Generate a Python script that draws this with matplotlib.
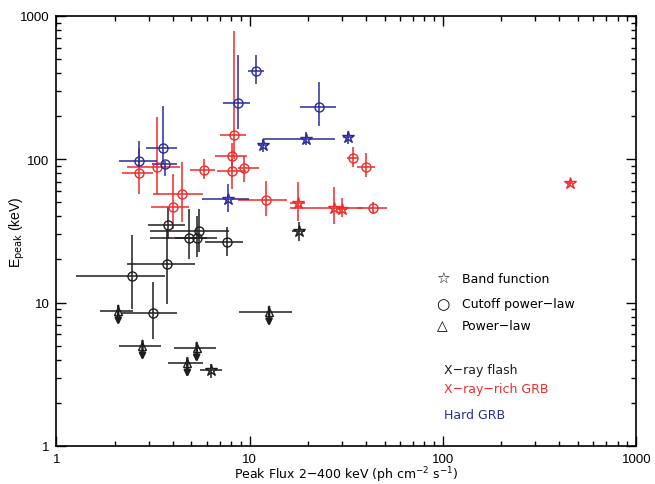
import matplotlib
matplotlib.use("Agg")
import matplotlib.pyplot as plt
import numpy as np

# Hard GRB, cutoff power-law
hard_cpl_x = [2.69, 3.56, 3.65, 8.74, 10.8, 22.9]
hard_cpl_xlo = [2.12, 2.91, 3.12, 7.31, 9.85, 18.2]
hard_cpl_xhi = [3.31, 4.20, 4.20, 10.1, 11.8, 27.9]
hard_cpl_y = [98, 120, 92, 246, 412, 232]
hard_cpl_ylo = [88, 92, 77, 163, 336, 172]
hard_cpl_yhi = [134, 235, 98, 535, 535, 349]

# Hard GRB, Band function
hard_band_x = [11.7, 19.5, 32.4, 7.69]
hard_band_xlo = [11.0, 11.7, 30.5, 5.65]
hard_band_xhi = [12.5, 27.7, 34.4, 9.93]
hard_band_y = [126, 138, 143, 52.9]
hard_band_ylo = [112, 125, 127, 42.7]
hard_band_yhi = [139, 155, 158, 67.4]

# X-ray-rich GRB, cutoff power-law
rich_cpl_x = [2.69, 3.32, 4.49, 4.00, 5.79, 8.28, 8.14, 8.14, 9.39, 12.1, 34.2, 40.0, 43.5]
rich_cpl_xlo = [2.18, 2.31, 3.18, 3.08, 4.92, 7.03, 6.62, 6.76, 8.74, 8.74, 32.0, 35.8, 35.8]
rich_cpl_xhi = [3.18, 4.36, 5.76, 4.88, 6.62, 9.55, 9.66, 9.55, 11.2, 15.6, 36.5, 44.5, 51.2]
rich_cpl_y = [80, 87.8, 57.4, 46.3, 84.4, 147, 104.8, 83.4, 87.1, 51.8, 102.8, 89, 45.6]
rich_cpl_ylo = [57.4, 57.4, 36.4, 32.7, 73, 100, 85, 62.1, 69.2, 40.5, 88.1, 75, 41.6]
rich_cpl_yhi = [120, 197, 95.5, 79, 100.6, 783, 130, 100, 106, 70.3, 121, 111, 50.1]

# X-ray-rich GRB, Band function
rich_band_x = [17.7, 27.4, 30.2, 454]
rich_band_xlo = [16.2, 16.2, 28.5, 440]
rich_band_xhi = [19.4, 38.7, 32.0, 470]
rich_band_y = [49.6, 46.0, 45.1, 68.8]
rich_band_ylo = [37.3, 35.4, 39.4, 65]
rich_band_yhi = [69.2, 63.8, 53.5, 72]

# X-ray flash, cutoff power-law
xrf_cpl_x = [3.80, 3.75, 2.45, 3.18, 4.88, 5.32, 5.47, 7.61]
xrf_cpl_xlo = [2.99, 2.31, 1.27, 2.18, 3.05, 4.11, 3.05, 5.88]
xrf_cpl_xhi = [4.63, 5.22, 3.65, 4.23, 6.00, 6.76, 7.85, 9.28]
xrf_cpl_y = [35, 18.6, 15.3, 8.47, 28.1, 28.1, 31.5, 26.5]
xrf_cpl_ylo = [27.8, 9.8, 9.03, 5.58, 20.2, 20.7, 22.5, 21.3]
xrf_cpl_yhi = [46.3, 32.7, 29.7, 13.9, 45.1, 40.5, 45.1, 33.6]

# X-ray flash, Band function
xrf_band_x = [17.9, 6.31]
xrf_band_xlo = [16.5, 5.54]
xrf_band_xhi = [19.3, 7.17]
xrf_band_y = [31.5, 3.39]
xrf_band_ylo = [27.1, 2.97]
xrf_band_yhi = [36.4, 3.73]

# X-ray flash, power-law (upper limits)
xrf_pl_x = [2.09, 2.79, 5.32, 4.76, 12.6]
xrf_pl_xlo = [1.68, 2.12, 4.06, 3.80, 8.82]
xrf_pl_xhi = [2.50, 3.47, 6.70, 5.76, 16.6]
xrf_pl_y = [8.8, 5.01, 4.85, 3.8, 8.65]

RED = '#f02a2a'
BLUE = '#2b2b9c'
BLACK = '#1e1e1e'

fig = plt.figure(figsize=(6.55, 4.85), dpi=100)
ax = fig.add_axes([0.086, 0.0784, 0.8855, 0.8866])


def draw(x, xlo, xhi, y, ylo, yhi, color, marker, ms):
    x, xlo, xhi = np.array(x), np.array(xlo), np.array(xhi)
    y, ylo, yhi = np.array(y), np.array(ylo), np.array(yhi)
    ax.errorbar(x, y, xerr=[x - xlo, xhi - x], yerr=[y - ylo, yhi - y],
                fmt=marker, mfc='none', mec=color, ecolor=color, ms=ms,
                mew=1.0, elinewidth=1.1, capsize=0)


draw(xrf_cpl_x, xrf_cpl_xlo, xrf_cpl_xhi, xrf_cpl_y, xrf_cpl_ylo, xrf_cpl_yhi, BLACK, 'o', 6.5)
draw(xrf_band_x, xrf_band_xlo, xrf_band_xhi, xrf_band_y, xrf_band_ylo, xrf_band_yhi, BLACK, '*', 9)
draw(rich_cpl_x, rich_cpl_xlo, rich_cpl_xhi, rich_cpl_y, rich_cpl_ylo, rich_cpl_yhi, RED, 'o', 6.5)
draw(rich_band_x, rich_band_xlo, rich_band_xhi, rich_band_y, rich_band_ylo, rich_band_yhi, RED, '*', 9)
draw(hard_cpl_x, hard_cpl_xlo, hard_cpl_xhi, hard_cpl_y, hard_cpl_ylo, hard_cpl_yhi, BLUE, 'o', 6.5)
draw(hard_band_x, hard_band_xlo, hard_band_xhi, hard_band_y, hard_band_ylo, hard_band_yhi, BLUE, '*', 9)

# upper limits: triangle + downward arrow
px = np.array(xrf_pl_x)
ax.errorbar(px, xrf_pl_y, xerr=[px - np.array(xrf_pl_xlo), np.array(xrf_pl_xhi) - px],
            fmt='^', mfc='none', mec=BLACK, ecolor=BLACK, ms=6, mew=1.0,
            elinewidth=1.1, capsize=0)
for xi, yi in zip(xrf_pl_x, xrf_pl_y):
    ax.annotate('', xy=(xi, yi * 0.79), xytext=(xi, yi * 1.08),
                arrowprops=dict(arrowstyle='-|>', color=BLACK, lw=1.8,
                                mutation_scale=9, shrinkA=0, shrinkB=0))

ax.set_xscale('log')
ax.set_yscale('log')
ax.set_xlim(1, 1000)
ax.set_ylim(1, 1000)
ticks = [1, 10, 100, 1000]
ax.set_xticks(ticks)
ax.set_yticks(ticks)
ax.set_xticklabels([str(t) for t in ticks])
ax.set_yticklabels([str(t) for t in ticks])
ax.tick_params(which='both', direction='in', top=True, right=True, width=1.0)
ax.tick_params(which='major', length=7, labelsize=9.5, pad=5)
ax.tick_params(which='minor', length=3.5)
for lab in ax.get_xticklabels() + ax.get_yticklabels():
    lab.set_fontfamily('Liberation Sans')
for s in ax.spines.values():
    s.set_linewidth(1.2)

ax.set_xlabel('Peak Flux 2\u2212400 keV (ph cm$^{-2}$ s$^{-1}$)', fontsize=9)
ax.xaxis.set_label_coords(0.5, -0.043)
ax.set_ylabel('E$_{\\rm peak}$ (keV)', fontsize=10, family='Liberation Sans')
ax.yaxis.set_label_coords(-0.05, 0.5)

# legend drawn as text
tx = ax.transAxes
ax.text(0.666, 0.39, '\u2606', transform=tx, fontsize=11, ha='center', va='center')
ax.text(0.666, 0.332, '\u25cb', transform=tx, fontsize=11, ha='center', va='center')
ax.text(0.666, 0.28, '\u25b3', transform=tx, fontsize=10, ha='center', va='center')
ax.text(0.699, 0.39, 'Band function', transform=tx, fontsize=9, va='center')
ax.text(0.699, 0.332, 'Cutoff power\u2212law', transform=tx, fontsize=9, va='center')
ax.text(0.699, 0.28, 'Power\u2212law', transform=tx, fontsize=9, va='center')
ax.text(0.668, 0.179, 'X\u2212ray flash', transform=tx, fontsize=9, va='center', color=BLACK)
ax.text(0.668, 0.134, 'X\u2212ray\u2212rich GRB', transform=tx, fontsize=9, va='center', color=RED)
ax.text(0.668, 0.074, 'Hard GRB', transform=tx, fontsize=9, va='center', color=BLUE)

fig.savefig('out.png', dpi=100)
